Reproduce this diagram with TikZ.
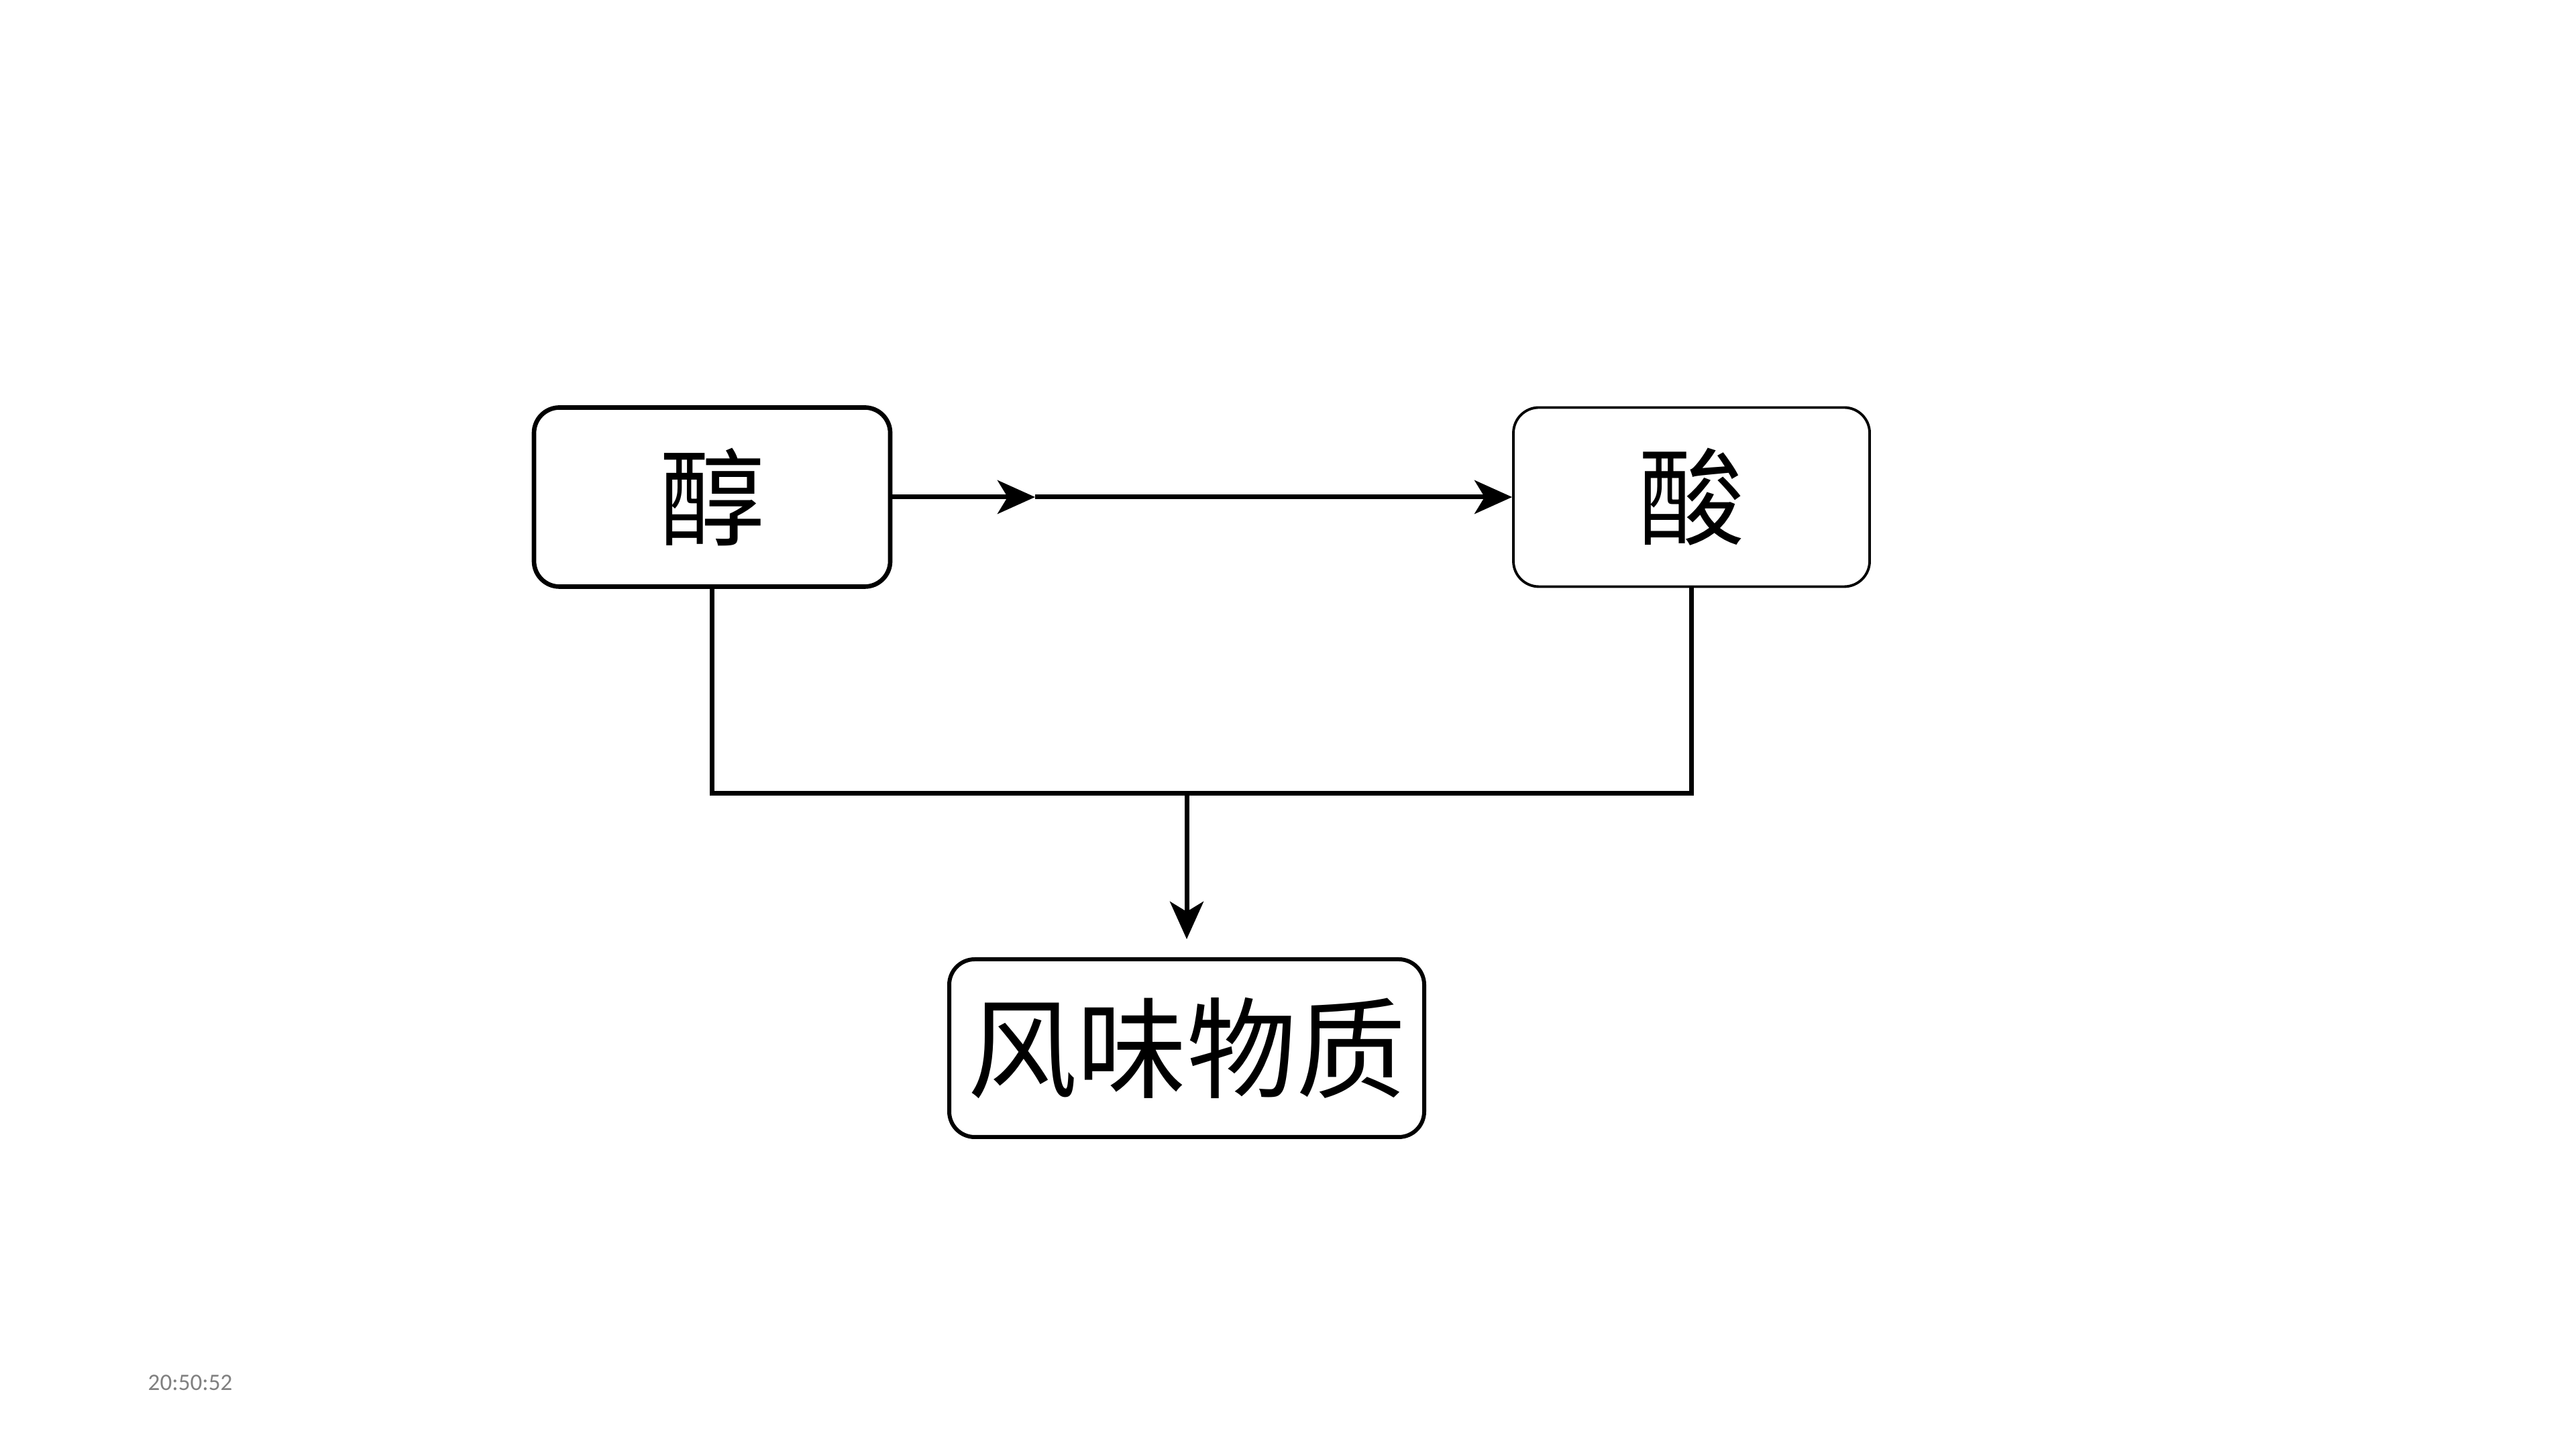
\documentclass[tikz,border=0pt]{standalone}
\usepackage{fontspec}
\setmainfont{Carlito}
\newfontfamily\cjk{Noto Sans CJK SC}
\usetikzlibrary{arrows.meta,positioning}
\definecolor{stampgray}{HTML}{808080}

\begin{document}
\begin{tikzpicture}[
      chem/.style={draw=black,fill=white,rounded corners=0.38cm,align=center,
                   minimum width=5.31cm,minimum height=2.67cm,inner sep=0pt,
                   font=\cjk\fontsize{45}{48}\selectfont},
      arr/.style={-{Stealth[length=5.6mm,width=5mm,inset=1.5mm]},line width=2pt,black}]
    \useasboundingbox (0,0) rectangle (38.4,21.6);
    \node[chem,line width=1.9pt] (alc)  at (10.615,14.19) {醇};
    \node[chem,line width=1.1pt] (acid) at (25.215,14.19) {酸};
    \node[chem,line width=1.7pt,minimum width=7.08cm,minimum height=2.65cm,
          font=\cjk\fontsize{46.5}{50}\selectfont] (flav) at (17.69,5.975) {风味物质};
    \coordinate (mid)  at (15.43,14.19);
    \coordinate (join) at (17.69,9.77);
    \draw[arr] (alc.east) -- (mid);
    \draw[arr] (mid) -- (acid.west);
    \draw[line width=2pt] (alc.south) |- (join) -| (acid.south);
    \draw[arr,shorten >=0.27cm] (join) -- (flav.north);
    \node[text=stampgray,font=\fontsize{10}{12}\selectfont,anchor=west,inner sep=0pt] (stamp) at (2.2,0.99) {20:50:52};
  \end{tikzpicture}
\end{document}
